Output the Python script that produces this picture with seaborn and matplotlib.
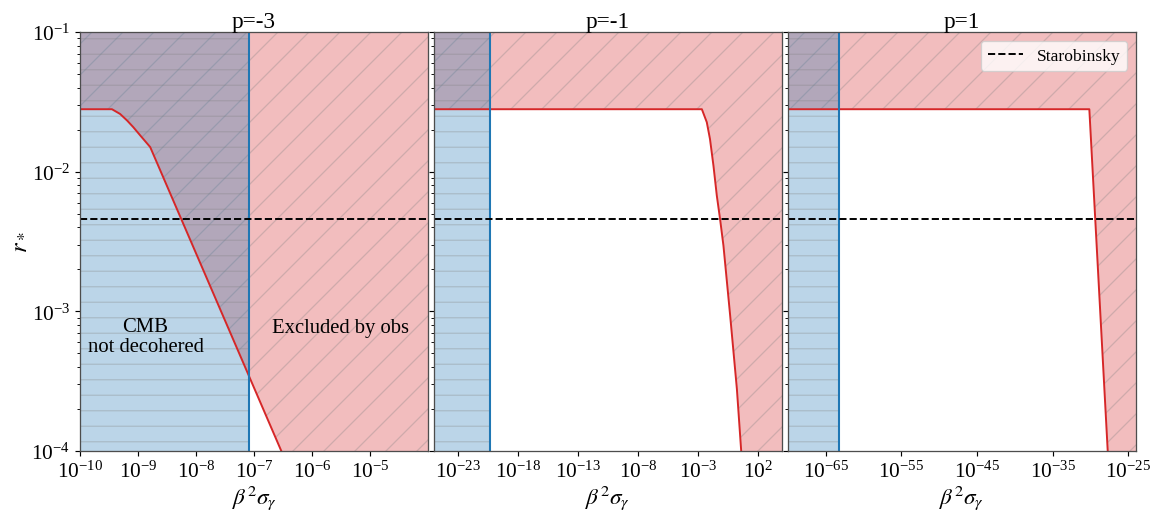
import matplotlib
matplotlib.use("Agg")
import matplotlib.pyplot as plt
import seaborn as sns
import pandas as pd
from matplotlib.ticker import FixedLocator, NullLocator, LogLocator, LogFormatterMathtext, NullFormatter

# ---------------- data ----------------
titles = ["p=-3", "p=-1", "p=1"]
starobinsky_r = 0.0046

# red boundary curves (beta^2 sigma_gamma, r_*)
x_pm3 = [1e-10, 3.55e-10, 4.9e-10, 6.5e-10, 8.3e-10, 1.1e-9, 1.62e-9, 2.95e-7, 1e-4]
r_pm3 = [0.028, 0.028, 0.0259, 0.0232, 0.0208, 0.0181, 0.0150, 1.0e-4, 3.6e-7]

x_pm1 = [1e-25, 2.1e-3, 5.4e-3, 1.0e-2, 1.95e-2, 3.7e-2, 6.9e-2, 0.132, 0.48, 1.74, 3.98, 1e4]
r_pm1 = [0.028, 0.028, 0.0226, 0.0171, 0.0110, 0.00673, 0.00458, 0.00295, 9.3e-4, 2.78e-4, 1.0e-4, 2.7e-8]

x_p1 = [1e-70, 6.9e-31, 1.86e-28, 1e-24]
r_p1 = [0.028, 0.028, 1.0e-4, 1.7e-8]

curves_x = [x_pm3, x_pm1, x_p1]
curves_r = [r_pm3, r_pm1, r_p1]

# decoherence threshold (blue vertical line)
decoh_x = [8.3e-8, 4.7e-21, 6.3e-64]

xlims = [(1e-10, 1e-4), (1e-25, 1e4), (1e-70, 1e-24)]
xticks = [[1e-10, 1e-9, 1e-8, 1e-7, 1e-6, 1e-5],
          [1e-23, 1e-18, 1e-13, 1e-8, 1e-3, 1e2],
          [1e-65, 1e-55, 1e-45, 1e-35, 1e-25]]
ylim = (1e-4, 1e-1)

# ---------------- style ----------------
sns.set_style("ticks")
plt.rcParams['font.family'] = ['Liberation Serif', 'DejaVu Serif']
plt.rcParams['mathtext.fontset'] = 'stix'
plt.rcParams['hatch.linewidth'] = 1.0
for key in ['text.color', 'axes.labelcolor', 'xtick.color', 'ytick.color']:
    plt.rcParams[key] = 'black'

DPI = 93
fig, axes = plt.subplots(1, 3, sharey=True, figsize=(1155 / DPI, 511 / DPI), dpi=DPI)
fig.subplots_adjust(left=0.0693, right=0.9835, top=0.9354, bottom=0.1155, wspace=0.017)

for i, ax in enumerate(axes):
    ax.set_xscale('log')
    ax.set_yscale('log')
    xmin, xmax = xlims[i]
    df = pd.DataFrame({'x': curves_x[i], 'r': curves_r[i]})
    # excluded by observations
    ax.fill_between(df['x'], df['r'], ylim[1], facecolor='tab:red', edgecolor='gray',
                    alpha=0.3, hatch='/', linewidth=0)
    # CMB not decohered
    ax.axvspan(xmin, decoh_x[i], facecolor='tab:blue', edgecolor='gray', alpha=0.3,
               hatch='-', linewidth=0)
    sns.lineplot(data=df, x='x', y='r', ax=ax, color='tab:red', lw=1.5,
                 sort=False, estimator=None)
    ax.axvline(decoh_x[i], color='tab:blue', lw=1.6)
    ax.axhline(starobinsky_r, color='black', ls='--', lw=1.5, label='Starobinsky')
    ax.set_xlim(xmin, xmax)
    ax.set_ylim(*ylim)
    ax.xaxis.set_major_locator(FixedLocator(xticks[i]))
    ax.xaxis.set_major_formatter(LogFormatterMathtext())
    ax.xaxis.set_minor_locator(NullLocator())
    ax.set_title(titles[i], fontsize=18, pad=2)
    ax.set_xlabel(r'$\beta^2\sigma_\gamma$', fontsize=18, labelpad=0)
    ax.set_ylabel('')
    ax.tick_params(axis='both', which='major', labelsize=16.5, direction='out', length=4, width=0.9)
    ax.tick_params(axis='y', which='minor', direction='out', length=2.5, width=0.7)
    for sp in ax.spines.values():
        sp.set_visible(True)
        sp.set_color('0.3')
        sp.set_linewidth(1.0)

axes[0].yaxis.set_major_locator(FixedLocator([1e-4, 1e-3, 1e-2, 1e-1]))
axes[0].yaxis.set_major_formatter(LogFormatterMathtext())
axes[0].yaxis.set_minor_locator(LogLocator(base=10, subs=range(2, 10), numticks=20))
axes[0].yaxis.set_minor_formatter(NullFormatter())
axes[0].set_ylabel(r'$r_*$', fontsize=19, labelpad=2)

axes[0].text(1.35e-9, 6.6e-4, 'CMB\nnot decohered', ha='center', va='center',
             multialignment='center', fontsize=16, linespacing=1.1)
axes[0].text(3.1e-6, 7.6e-4, 'Excluded by obs', ha='center', va='center', fontsize=16)

axes[2].legend(loc='upper right', fontsize=13.5, framealpha=0.8)

fig.savefig('out.png', dpi=DPI)
